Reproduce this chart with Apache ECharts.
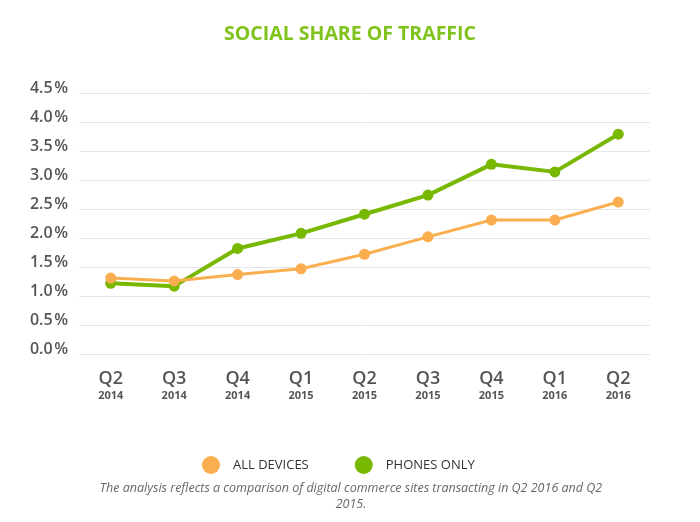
<!DOCTYPE html>
<html><head><meta charset="utf-8">
<script src="https://cdn.jsdelivr.net/npm/echarts@6/dist/echarts.min.js"></script>
<style>html,body{margin:0;padding:0;background:#fff}#c{width:700px;height:522px}</style>
</head><body><div id="c"></div>
<script>
const quarters = ['Q2','Q3','Q4','Q1','Q2','Q3','Q4','Q1','Q2'];
const years = ['2014','2014','2014','2015','2015','2015','2015','2016','2016'];
const allDevices = [1.31, 1.26, 1.37, 1.47, 1.72, 2.02, 2.31, 2.31, 2.62];
const phonesOnly = [1.22, 1.17, 1.82, 2.08, 2.41, 2.74, 3.27, 3.14, 3.79];
const yTicks = [0, 0.5, 1, 1.5, 2, 2.5, 3, 3.5, 4, 4.5];
const categories = quarters.map((q, i) => q + '\n' + years[i]);

const chart = echarts.init(document.getElementById('c'));
chart.setOption({
  animation: false,
  backgroundColor: '#fff',
  title: {
    text: 'SOCIAL SHARE OF TRAFFIC',
    left: 'center', top: 19,
    textStyle: {color: '#80C31C', fontSize: 19.5, fontWeight: 'bold', fontFamily: 'Open Sans'}
  },
  graphic: [{
    type: 'text', x: 351, y: 480,
    style: {
      text: 'The analysis reflects a comparison of digital commerce sites transacting in Q2 2016 and Q2\n2015.',
      fill: '#666', fontSize: 12.5, fontStyle: 'italic', fontFamily: 'Open Sans',
      lineHeight: 16, align: 'center', verticalAlign: 'top'
    }
  }],
  legend: {
    top: 451, left: 197,
    itemGap: 46, itemWidth: 18, itemHeight: 18, icon: 'circle',
    textStyle: {color: '#333', fontSize: 13, fontFamily: 'Open Sans', padding: [0, 0, 0, 8]},
    data: ['ALL DEVICES', 'PHONES ONLY']
  },
  grid: {left: 79, right: 50, top: 93, bottom: 168, containLabel: false},
  xAxis: {
    type: 'category', data: categories, boundaryGap: true,
    axisLine: {show: false}, axisTick: {show: false},
    axisLabel: {
      margin: 15, interval: 0,
      formatter: v => { const p = v.split('\n'); return '{q|' + p[0] + '}\n{y|' + p[1] + '}'; },
      rich: {
        q: {fontSize: 18, fontWeight: 600, color: '#555', fontFamily: 'Open Sans', lineHeight: 20},
        y: {fontSize: 11, fontWeight: 'bold', color: '#555', fontFamily: 'Open Sans', lineHeight: 14}
      }
    }
  },
  yAxis: {
    type: 'value', min: yTicks[0], max: yTicks[yTicks.length - 1], interval: 0.5,
    axisLine: {show: false}, axisTick: {show: false},
    splitLine: {lineStyle: {color: '#e6e6e6', width: 1}},
    axisLabel: {
      margin: 11,
      formatter: v => '{a|' + v.toFixed(1) + '\u200A%}',
      rich: {
        a: {color: '#555', fontSize: 16, fontWeight: 600, fontFamily: 'Open Sans', padding: [0, 0, 10, 0]}
      }
    }
  },
  series: [{
    name: 'ALL DEVICES', type: 'line', data: allDevices,
    color: '#FBAE4F', symbol: 'circle', symbolSize: 11,
    lineStyle: {width: 3, color: '#FBAE4F'}, itemStyle: {color: '#FBAE4F'}, z: 3
  }, {
    name: 'PHONES ONLY', type: 'line', data: phonesOnly,
    color: '#78B800', symbol: 'circle', symbolSize: 11,
    lineStyle: {width: 4, color: '#78B800'}, itemStyle: {color: '#78B800'}, z: 2
  }]
});
</script></body></html>
